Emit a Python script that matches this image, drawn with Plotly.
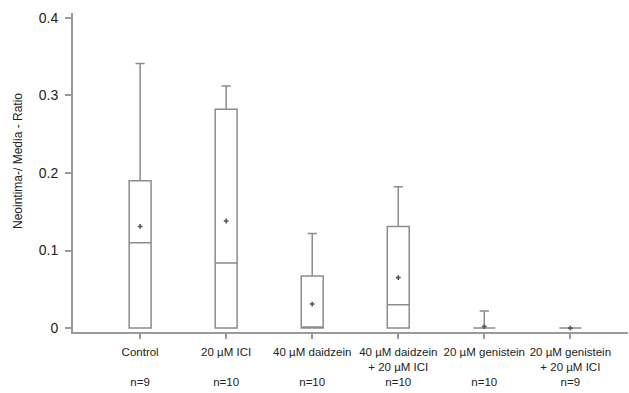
import plotly.graph_objects as go

categories = ["Control", "20 µM ICI", "40 µM daidzein", "40 µM daidzein<br>+ 20 µM ICI",
              "20 µM genistein", "20 µM genistein<br>+ 20 µM ICI"]
n_labels = ["n=9", "n=10", "n=10", "n=10", "n=10", "n=9"]
lower = [0.0, 0.0, 0.0, 0.0, 0.0, 0.0]
q1 = [0.0, 0.0, 0.0, 0.0, 0.0, 0.0]
median = [0.110, 0.084, 0.0, 0.030, 0.0, 0.0]
q3 = [0.190, 0.282, 0.067, 0.131, 0.0, 0.0]
upper = [0.341, 0.312, 0.122, 0.182, 0.022, 0.0]
means = [0.131, 0.138, 0.031, 0.065, 0.002, 0.0]
y_ticks = [0, 0.1, 0.2, 0.3, 0.4]
y_ticktext = ["0", "0.1", "0.2", "0.3", "0.4"]
y_title = "Neointima-/ Media - Ratio"

pos = list(range(len(categories)))
ticktext = []
for c, n in zip(categories, n_labels):
    if "<br>" in c:
        ticktext.append(c + "<br>" + n)
    else:
        ticktext.append(c + "<br> <br>" + n)

FONT = "Liberation Sans Narrow, Arial Narrow, Liberation Sans, Arial, sans-serif"
GRAY = "#8c8c8c"
AXIS = "#9a9a9a"

fig = go.Figure()
fig.add_trace(go.Box(
    x=pos, q1=q1, median=median, q3=q3, lowerfence=lower, upperfence=upper,
    width=0.255, whiskerwidth=0.42,
    fillcolor="rgba(255,255,255,0)",
    line=dict(color=GRAY, width=1.5),
    boxpoints=False, showlegend=False, hoverinfo="skip",
))
fig.add_trace(go.Scatter(
    x=pos, y=means, mode="markers",
    marker=dict(symbol="cross", size=4, color="#555555"),
    showlegend=False, hoverinfo="skip",
))

fig.update_layout(
    width=629, height=393,
    margin=dict(l=73, r=1, t=13, b=61),
    paper_bgcolor="white", plot_bgcolor="white",
    font=dict(family=FONT, color="#222222"),
)
fig.add_annotation(
    text=y_title, textangle=-90, showarrow=False,
    xref="paper", yref="paper", x=-55 / 555, y=0.536,
    xanchor="center", yanchor="middle",
    font=dict(size=12, family=FONT, color="#222222"),
)
fig.update_xaxes(
    range=[-0.78, 5.67], tickvals=pos, ticktext=ticktext, automargin=False, tickangle=0,
    showline=True, linecolor=AXIS, linewidth=2,
    ticks="outside", ticklen=5, tickcolor=AXIS, tickwidth=1.5, ticklabelstandoff=3,
    showgrid=False, zeroline=False, tickfont=dict(size=11.5, family=FONT),
)
fig.update_yaxes(
    range=[-0.005, 0.406], tickvals=y_ticks, ticktext=y_ticktext, automargin=False,
    showline=True, linecolor=AXIS, linewidth=2,
    ticks="outside", ticklen=6, tickcolor=AXIS, tickwidth=1.5, ticklabelstandoff=4,
    showgrid=False, zeroline=False, tickfont=dict(size=14, family=FONT),
)
fig.write_html("out.html", config={"displayModeBar": False},
               post_script="document.body.style.margin='0';")
